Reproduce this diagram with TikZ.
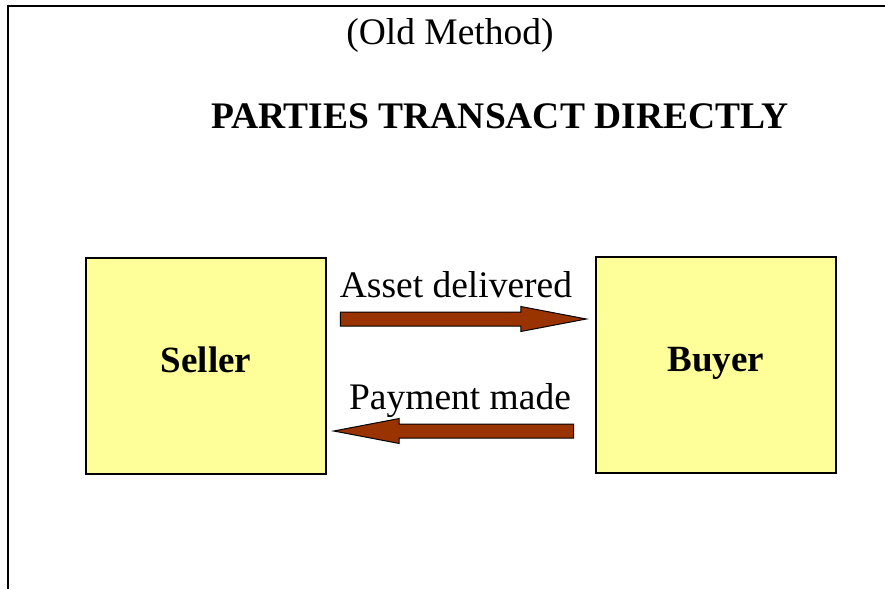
\documentclass[tikz,border=0pt]{standalone}
\usepackage{fontspec}
\setmainfont{Liberation Serif}
\usepackage{tikz}
\usetikzlibrary{shapes.arrows}
\definecolor{boxfill}{HTML}{FFFF99}
\definecolor{arrowfill}{HTML}{993300}

\begin{document}
\begin{tikzpicture}[x=1pt, y=-1pt,
		party/.style={draw, line width=1.6pt, fill=boxfill, minimum width=240pt, minimum height=216pt, inner sep=0pt,
			font=\fontsize{37}{44}\selectfont\bfseries, text height=25pt, text depth=12pt},
		blockarrow/.style={single arrow, draw, line width=1pt, fill=arrowfill, inner sep=0pt, inner ysep=6.5pt,
			single arrow tip angle=21.6, single arrow head extend=5.5pt, anchor=tail},
		caption/.style={font=\fontsize{37.5}{44}\selectfont, anchor=base}]
	\useasboundingbox (0,0) rectangle (885,589);
	\draw[line width=2.2pt] (885,6) -- (8,6) -- (8,589);
	
	\node[caption] (oldmethod) at (450,44) {(Old Method)};
	\node[caption, font=\fontsize{37.5}{44}\selectfont\bfseries] (title) at (500,128) {PARTIES TRANSACT DIRECTLY};
	
	\node[party] (seller) at (206,366) {Seller};
	\node[party] (buyer) at (716,365) {Buyer};
	
	% asset goes to the buyer, payment comes back
	\node[blockarrow, minimum height=246pt] (asset) at ([xshift=13pt, yshift=47pt]seller.east) {};
	\node[blockarrow, minimum height=240pt, shape border rotate=180] (payment) at ([xshift=-21pt, yshift=-66pt]buyer.west) {};
	
	\node[caption] (assetlbl) at (456,297) {Asset delivered};
	\node[caption] (paymentlbl) at (460,409) {Payment made};
\end{tikzpicture}
\end{document}
